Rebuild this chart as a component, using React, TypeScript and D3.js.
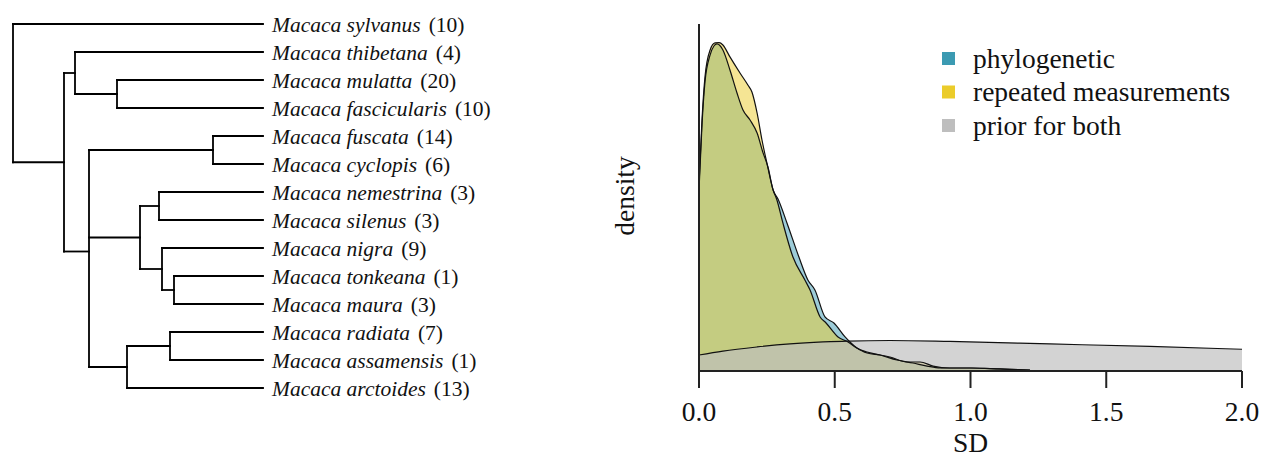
import React from "react";
import * as d3 from "d3";

// ---- Phylogeny of Macaca (branch lengths, root-to-tip = 1) ----
const treeNewick =
  "(sylvanus:1,((thibetana:0.752,(mulatta:0.584,fascicularis:0.584):0.168):0.044,((fuscata:0.2,cyclopis:0.2):0.496,((nemestrina:0.416,silenus:0.416):0.076,(nigra:0.404,(tonkeana:0.356,maura:0.356):0.048):0.088):0.204,((radiata:0.372,assamensis:0.372):0.172,arctoides:0.544):0.152):0.1):0.204);";

const genus = "Macaca";
const tipSpecies = [
  "sylvanus", "thibetana", "mulatta", "fascicularis", "fuscata", "cyclopis", "nemestrina",
  "silenus", "nigra", "tonkeana", "maura", "radiata", "assamensis", "arctoides",
];
const tipCounts = [10, 4, 20, 10, 14, 6, 3, 3, 9, 1, 3, 7, 1, 13];

// ---- Posterior densities of the SD parameters: [SD, density] ----
const phylogenetic: [number, number][] = [
  [0, 1.727], [0.011, 2.351], [0.022, 2.764], [0.041, 3.023], [0.055, 3.109], [0.066, 3.129],
  [0.088, 3.071], [0.114, 2.879], [0.14, 2.658], [0.162, 2.495], [0.188, 2.399], [0.214, 2.274],
  [0.236, 2.083], [0.254, 1.948], [0.273, 1.727], [0.291, 1.641], [0.324, 1.411], [0.368, 1.084],
  [0.401, 0.864], [0.427, 0.768], [0.464, 0.509], [0.497, 0.451], [0.538, 0.317], [0.556, 0.269],
  [0.582, 0.211], [0.619, 0.173], [0.667, 0.144], [0.729, 0.096], [0.788, 0.067], [0.84, 0.038],
  [0.888, 0.019], [0.998, 0.019], [1.072, 0.014], [1.219, 0],
];
const repeatedMeasurements: [number, number][] = [
  [0, 1.775], [0.011, 2.399], [0.022, 2.812], [0.041, 3.071], [0.059, 3.138], [0.074, 3.141],
  [0.088, 3.119], [0.114, 3.004], [0.151, 2.85], [0.18, 2.735], [0.195, 2.668], [0.214, 2.466],
  [0.232, 2.207], [0.25, 1.987], [0.273, 1.727], [0.287, 1.631], [0.309, 1.411], [0.346, 1.084],
  [0.39, 0.864], [0.409, 0.768], [0.446, 0.509], [0.468, 0.451], [0.512, 0.317], [0.549, 0.269],
  [0.575, 0.221], [0.619, 0.163], [0.667, 0.144], [0.703, 0.125], [0.766, 0.077], [0.814, 0.077],
  [0.862, 0.038], [0.924, 0.019], [1.009, 0.019], [1.109, 0.01], [1.219, 0],
];
const priorBoth: [number, number][] = [
  [0, 0.144], [0.088, 0.182], [0.214, 0.221], [0.335, 0.25], [0.457, 0.269], [0.545, 0.278],
  [0.703, 0.283], [0.924, 0.274], [1.293, 0.25], [1.661, 0.226], [2.0, 0.199],
];

const legendLabels = ["phylogenetic", "repeated measurements", "prior for both"];
const legendColors = ["#3B9AB2", "#EBCC2A", "#BEBEBE"];
const xTicks = [0, 0.5, 1, 1.5, 2];

type PNode = { name?: string; length: number; children?: PNode[] };

function parseNewick(s: string): PNode {
  let i = 0;
  function node(): PNode {
    const n: PNode = { length: 0 };
    if (s[i] === "(") {
      i++;
      n.children = [node()];
      while (s[i] === ",") {
        i++;
        n.children.push(node());
      }
      i++; // ')'
    }
    let name = "";
    while (i < s.length && !",():;".includes(s[i])) name += s[i++];
    if (name) n.name = name;
    if (s[i] === ":") {
      i++;
      let num = "";
      while (i < s.length && !",();".includes(s[i])) num += s[i++];
      n.length = +num;
    }
    return n;
  }
  return node();
}

const SERIF = "'Liberation Serif', 'Times New Roman', Times, serif";

function Tree() {
  const root = d3.hierarchy(parseNewick(treeNewick), (d) => d.children);
  const xs = d3.scaleLinear().domain([0, 1]).range([13, 263]);
  const ys = d3.scalePoint<string>().domain(tipSpecies).range([24, 388]);

  const depth = new Map<any, number>();
  root.eachBefore((n: any) => {
    depth.set(n, n.parent ? depth.get(n.parent)! + n.data.length : 0);
  });
  const ypos = new Map<any, number>();
  root.eachAfter((n: any) => {
    if (!n.children) ypos.set(n, ys(n.data.name)!);
    else ypos.set(n, d3.mean(n.children, (c: any) => ypos.get(c)!)!);
  });

  const segs: JSX.Element[] = [];
  let k = 0;
  root.each((n: any) => {
    const nx = xs(depth.get(n)!);
    const ny = ypos.get(n)!;
    if (n.children) {
      const cy = n.children.map((c: any) => ypos.get(c)!);
      segs.push(
        <line key={k++} x1={nx} x2={nx} y1={d3.min(cy)} y2={d3.max(cy)} />
      );
    }
    if (n.parent) {
      segs.push(
        <line key={k++} x1={xs(depth.get(n.parent)!)} x2={nx} y1={ny} y2={ny} />
      );
    }
  });

  return (
    <g>
      <g stroke="#000" strokeWidth={1.8} strokeLinecap="square">
        {segs}
      </g>
      <g fontFamily={SERIF} fontSize={21.5} fill="#111">
        {tipSpecies.map((sp, i) => (
          <text key={sp} x={272} y={ys(sp)! + 7.5}>
            <tspan fontStyle="italic">{`${genus} ${sp}`}</tspan>
            <tspan dx={8}>{`(${tipCounts[i]})`}</tspan>
          </text>
        ))}
      </g>
    </g>
  );
}

function Density() {
  const x = d3.scaleLinear().domain([0, 2]).range([699, 1242]);
  const y = d3.scaleLinear().domain([0, 3.32]).range([370, 24]);
  const area = d3
    .area<[number, number]>()
    .x((d) => x(d[0]))
    .y0(y(0))
    .y1((d) => y(d[1]))
    .curve(d3.curveMonotoneX);
  const line = d3
    .line<[number, number]>()
    .x((d) => x(d[0]))
    .y((d) => y(d[1]))
    .curve(d3.curveMonotoneX);

  const series: { data: [number, number][]; fill: string; op: number }[] = [
    { data: phylogenetic, fill: legendColors[0], op: 0.5 },
    { data: repeatedMeasurements, fill: legendColors[1], op: 0.5 },
    { data: priorBoth, fill: legendColors[2], op: 0.68 },
  ];

  const axisY = 371;
  const fs = 27.5;
  return (
    <g fontFamily={SERIF} fill="#111">
      {series.map((s, i) => (
        <path key={"a" + i} d={area(s.data)!} fill={s.fill} fillOpacity={s.op} stroke="none" />
      ))}
      {series.map((s, i) => (
        <path key={"l" + i} d={line(s.data)!} fill="none" stroke="#111" strokeWidth={1.2} />
      ))}
      {/* axes */}
      <line x1={x(0)} x2={x(0)} y1={24} y2={axisY} stroke="#222" strokeWidth={2} />
      <line x1={x(0)} x2={x(2)} y1={axisY} y2={axisY} stroke="#222" strokeWidth={2} />
      {xTicks.map((t) => (
        <g key={t}>
          <line x1={x(t)} x2={x(t)} y1={axisY} y2={axisY + 17} stroke="#222" strokeWidth={2} />
          <text x={x(t)} y={421} textAnchor="middle" fontSize={fs}>
            {d3.format(".1f")(t)}
          </text>
        </g>
      ))}
      <text x={x(1)} y={452} textAnchor="middle" fontSize={fs}>SD</text>
      <text transform="translate(634,196) rotate(-90)" textAnchor="middle" fontSize={fs}>
        density
      </text>
      {/* legend */}
      {legendLabels.map((lab, i) => (
        <g key={lab}>
          <rect x={942} y={52 + i * 33.5} width={13} height={13} fill={legendColors[i]} />
          <text x={973} y={67.5 + i * 33.5} fontSize={fs}>
            {lab}
          </text>
        </g>
      ))}
    </g>
  );
}

export default function App() {
  return (
    <svg
      width={1262}
      height={459}
      style={{ position: "absolute", left: 0, top: 0, background: "#fff" }}
    >
      <Tree />
      <Density />
    </svg>
  );
}
